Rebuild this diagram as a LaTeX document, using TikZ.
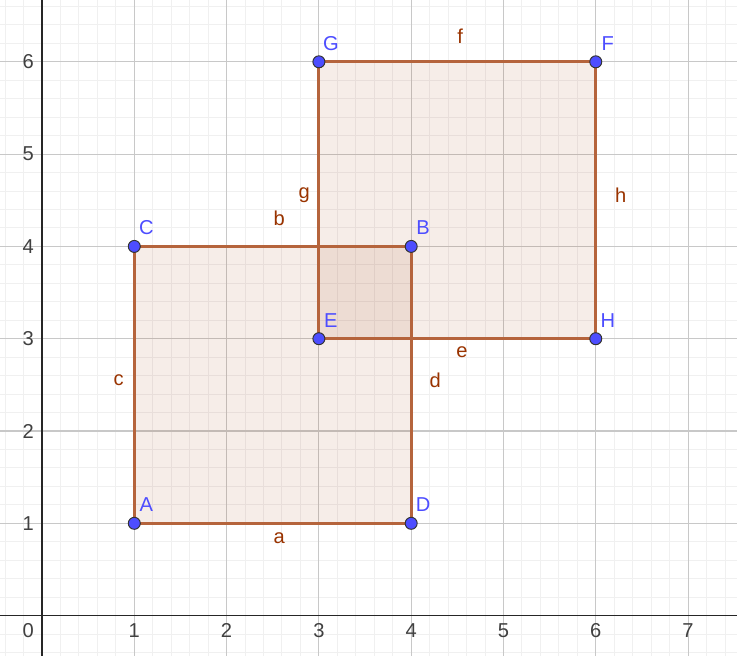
\documentclass[tikz,border=0pt]{standalone}
\usepackage{fontspec}
\setmainfont{Liberation Sans}
\usetikzlibrary{calc}
\definecolor{ggbline}{RGB}{181, 100, 60}
\definecolor{ggbfill}{RGB}{153, 51, 0}
\definecolor{ggbpoint}{RGB}{77, 77, 255}
\definecolor{ggbminor}{RGB}{240, 240, 240}
\definecolor{ggbmajor}{RGB}{200, 200, 200}

\begin{document}
\begin{tikzpicture}[
    font=\fontsize{6.2}{7.4}\selectfont,
    edge/.style={ggbline, line width=0.9pt},
    face/.style={fill=ggbfill, fill opacity=0.09},
    pt/.style={circle, draw=black!80, fill=ggbpoint, line width=0.3pt, inner sep=0pt, minimum size=0.13cm},
    ptlab/.style={text=ggbpoint, inner sep=0pt},
    seglab/.style={text=ggbfill, inner sep=0pt},
    ticklab/.style={text=black!75, inner sep=0pt}
  ]
  \useasboundingbox (-0.455,-0.434) rectangle (7.53,6.67);
  % Grid and axes
  \draw[ggbminor, line width=0.3pt, step=0.2] (-0.455,-0.434) grid (7.53,6.67);
  \draw[ggbmajor, line width=0.35pt, step=1] (-0.455,-0.434) grid (7.53,6.67);
  \draw[black!85, line width=0.5pt] (-0.455,0) -- (7.53,0);
  \draw[black!85, line width=0.5pt] (0,-0.434) -- (0,6.67);
  \node[ticklab] at (-0.15,-0.163) {0};
  \foreach \x in {1,...,7}
    \node[ticklab] at (\x,-0.163) {\x};
  \foreach \y in {1,...,6}
    \node[ticklab] at (-0.15,\y) {\y};

  % Corners
  \coordinate (A) at (1,1);
  \coordinate (D) at (4,1);
  \coordinate (B) at (4,4);
  \coordinate (C) at (1,4);
  \coordinate (E) at (3,3);
  \coordinate (H) at (6,3);
  \coordinate (F) at (6,6);
  \coordinate (G) at (3,6);

  % Squares
  \fill[face] (A) -- (D) -- (B) -- (C) -- cycle;
  \fill[face] (E) -- (H) -- (F) -- (G) -- cycle;
  \draw[edge] (A) -- (D);
  \draw[edge] (D) -- (B);
  \draw[edge] (B) -- (C);
  \draw[edge] (C) -- (A);
  \draw[edge] (E) -- (H);
  \draw[edge] (H) -- (F);
  \draw[edge] (F) -- (G);
  \draw[edge] (G) -- (E);

  % Segment names
  \node[seglab] at (2.57,0.835) {a};
  \node[seglab] at (2.57,4.30) {b};
  \node[seglab] at (0.83,2.55) {c};
  \node[seglab] at (4.26,2.55) {d};
  \node[seglab] at (4.55,2.85) {e};
  \node[seglab] at (4.53,6.28) {f};
  \node[seglab] at (2.84,4.56) {g};
  \node[seglab] at (6.27,4.56) {h};

  % Points and their names
  \foreach \p in {A,B,C,D,E,F,G,H} {
    \node[pt] (p\p) at (\p) {};
    \node[ptlab] (l\p) at ($(\p)+(0.13,0.2)$) {\p};
  }
\end{tikzpicture}
\end{document}
